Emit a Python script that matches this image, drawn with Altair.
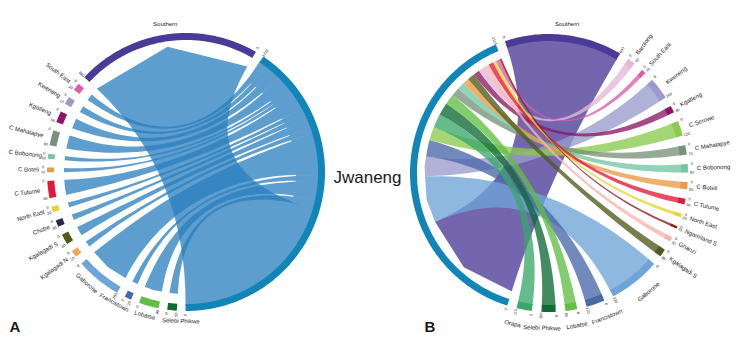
import math
import altair as alt
import pandas as pd

# ---- Panel A ----
a_names = ["Southern", "Jwaneng", "Selebi Phikwe", "Lobatse", "Francistown", "Gaborone", "Kgalagadi N",
           "Kgalagadi S", "Chobe", "North East", "C Tutume", "C Boteli", "C Bobonong", "C Mahalapye",
           "Kgatleng", "Kweneng", "South East"]
a_values = [970, 1840, 50, 105, 35, 240, 35, 55, 35, 30, 90, 25, 25, 80, 60, 40, 40]
a_ticks = ["980", "1710", "50", "90", "25", "280", "10", "50", "30", "20", "80", "10", "10", "90", "50", "10", "10"]
a_colors = ["#4B3A97", "#1285B8", "#0E6B35", "#62BF45", "#4A68A8", "#6FA4D8", "#F2A65A", "#4F5A1C", "#25294F",
            "#E4D62E", "#E31837", "#EA9A45", "#72C6A1", "#7A917A", "#8C1865", "#9A9BCC", "#D95FA8"]
# order of the links along the Jwaneng sector, clockwise
a_link_order = ["South East", "Kweneng", "Kgatleng", "C Mahalapye", "C Bobonong", "C Boteli", "C Tutume",
                "North East", "Chobe", "Kgalagadi S", "Kgalagadi N", "Gaborone", "Francistown", "Lobatse",
                "Selebi Phikwe", "Southern"]
a_tangent = ["Southern", "Gaborone", "Francistown", "Lobatse", "Selebi Phikwe"]
a_label_angle = {"Southern": 352, "Gaborone": 221.7, "Francistown": 208.8, "Lobatse": 196, "Selebi Phikwe": 182}

# ---- Panel B ----
b_names = ["Southern", "Barolong", "South East", "Kweneng", "Kgatleng", "C Serowe", "C Mahalapye", "C Bobonong",
           "C Boteli", "C Tutume", "North East", "Ngamiland S", "Ghanzi", "Kgalagadi S", "Gaborone",
           "Francistown", "Lobatse", "Selebi Phikwe", "Orapa", "Jwaneng"]
b_values = [750, 50, 28, 140, 45, 96, 60, 52, 45, 36, 22, 15, 30, 51, 330, 118, 75, 90, 97, 2130]
b_ticks = ["800", "40", "20", "160", "40", "120", "70", "60", "50", "30", "20", "15", "30", "65", "330", "120",
           "80", "100", "110", "2114"]
b_colors = ["#4B3A97", "#E4B7D5", "#D95FA8", "#9A9BCC", "#8C1865", "#8CCB4E", "#7A917A", "#72C6A1", "#EA9A45",
            "#E31837", "#E4D62E", "#8B1A1A", "#F4B6B0", "#4F5A1C", "#6FA4D8", "#4A68A8", "#62BF45", "#0E6B35",
            "#3BA76A", "#1285B8"]
b_link_order = ["Southern", "Gaborone", "Kweneng", "Francistown", "C Serowe", "Orapa", "Selebi Phikwe", "Lobatse",
                "C Mahalapye", "C Bobonong", "C Boteli", "Kgalagadi S", "Kgatleng", "Barolong", "Ghanzi", "C Tutume",
                "North East", "South East", "Ngamiland S"]
b_tangent = ["Southern", "Gaborone", "Francistown", "Lobatse", "Selebi Phikwe", "Orapa"]
b_label_angle = {"Southern": 7, "Gaborone": 140, "Francistown": 158, "Lobatse": 169.6, "Selebi Phikwe": 182.6,
                 "Orapa": 193.6}

A_CX, A_CY, B_CX, B_CY = 186.0, 172.0, 549.0, 173.0
R_OUT, R_IN = 139.0, 132.0
FONT_S = 6.0


def pt(cx, cy, r, deg):
    t = math.radians(deg)
    return [cx + r * math.sin(t), cy - r * math.cos(t)]


def arc(cx, cy, r, a0, a1, step=2.0):
    n = max(2, int(abs(a1 - a0) / step) + 1)
    return [pt(cx, cy, r, a0 + (a1 - a0) * i / (n - 1)) for i in range(n)]


def coarse(cx, cy, r, a0, a1):
    w = abs(a1 - a0)
    if w < 8:
        return arc(cx, cy, r, a0, a1)
    mid = (a0 + a1) / 2
    return [pt(cx, cy, r, a0), pt(cx, cy, r + w * 0.06, mid), pt(cx, cy, r, a1)]


def bez_t(p0, p1, c, t):
    return [(1 - t) ** 2 * p0[k] + 2 * t * (1 - t) * c[k] + t * t * p1[k] for k in (0, 1)]


def feature(ring, color, op):
    ring = ring + [ring[0]]
    return {"type": "Feature", "geometry": {"type": "Polygon", "coordinates": [ring]},
            "properties": {"c": color, "o": op}}


def layout(values, start, gap):
    k = (360 - gap * len(values)) / sum(values)
    pos, a = [], start
    for v in values:
        pos.append((a, a + v * k))
        a += v * k + gap
    return pos, k


def link(cx, cy, s0, s1, rs, j0, j1, rj, s_coarse, waist=0.0):
    c = [cx, cy]
    if s_coarse:
        send = coarse(cx, cy, rs, s0, s1)
        jend = arc(cx, cy, rj, j0, j1)
    else:
        send = arc(cx, cy, rs, s0, s1)
        jend = coarse(cx, cy, rj, j0, j1)
    e1, e2 = [], []
    for i in range(1, 40):
        t = i / 40
        a = bez_t(send[-1], jend[0], c, t)
        b = bez_t(send[0], jend[-1], c, t)
        m = [(a[0] + b[0]) / 2, (a[1] + b[1]) / 2]
        f = 1 - waist * 4 * t * (1 - t)
        e1.append([m[0] + (a[0] - m[0]) * f, m[1] + (a[1] - m[1]) * f])
        e2.append([m[0] + (b[0] - m[0]) * f, m[1] + (b[1] - m[1]) * f])
    return send + e1 + jend + e2[::-1]


shapes, texts = [], []


def add_text(t, x, y, rot, size, align, weight="normal"):
    texts.append({"t": t, "x": x, "y": y, "rot": rot % 360, "size": size, "align": align, "weight": weight})


# Panel A: clockwise layout of the sectors
a_pos, a_k = layout(a_values, 313.0, 3.6)
a_idx = {n: i for i, n in enumerate(a_names)}
j_start, j_end = a_pos[1]
j_scale = (j_end - j_start) / (sum(a_values) - a_values[1])
j0 = j_start
a_links = []
for n in a_link_order:
    i = a_idx[n]
    j1 = j0 + a_values[i] * j_scale
    w = a_pos[i][1] - a_pos[i][0]
    waist = 0.0 if n == "Southern" else (0.15 if w > 15 else 0.3)
    a_links.append(link(A_CX, A_CY, a_pos[i][0], a_pos[i][1], 122, j0, j1, R_IN + 1, True, waist))
    j0 = j1
for ring in a_links[::-1]:
    shapes.append(feature(ring, "#287DBE", 0.75))
# the ribbons merge into one even band close to the Jwaneng rim
others = sum(a_values[a_idx[n]] for n in a_link_order[:-1]) * j_scale
shapes.append(feature(arc(A_CX, A_CY, R_IN + 1, j_start, j_start + others, 1)
                      + arc(A_CX, A_CY, 110, j_start + others, j_start, 1), "#5E9ECE", 0.95))
for i, (a0, a1) in enumerate(a_pos):
    outer = arc(A_CX, A_CY, R_OUT, a0, a1, 1)
    inner = arc(A_CX, A_CY, R_IN, a1, a0, 1)
    shapes.append(feature(outer + inner, a_colors[i], 1))
    n = a_names[i]
    th = ((a0 + a1) / 2) % 360
    if n != "Jwaneng":
        if n in a_tangent:
            la = a_label_angle[n]
            p = pt(A_CX, A_CY, 149, la)
            add_text(n, p[0], p[1], 0 if n == "Southern" else la - 180, FONT_S, "center")
        else:
            p = pt(A_CX, A_CY, 145 if n == "C Bobonong" else 147, th)
            add_text(n, p[0], p[1], th - 270, FONT_S, "right")
    # 0 at the clockwise end, value at the other end
    for ang, lab in ((a1, "0"), (a0, a_ticks[i])):
        p = pt(A_CX, A_CY, 143, ang)
        g = ang % 360
        add_text(lab, p[0], p[1], g - 270 if g > 180 else g - 90, 3.8, "center")

# Panel B
b_pos, b_k = layout(b_values, 341.5, 4.0)
b_idx = {n: i for i, n in enumerate(b_names)}
j0 = b_pos[b_idx["Jwaneng"]][0]
for n in b_link_order:
    i = b_idx[n]
    j1 = j0 + b_values[i] * b_k
    shapes.append(feature(link(B_CX, B_CY, b_pos[i][0], b_pos[i][1], R_IN + 1, j0, j1, 124, False), b_colors[i], 0.78))
    j0 = j1
for i, (a0, a1) in enumerate(b_pos):
    outer = arc(B_CX, B_CY, R_OUT, a0, a1, 1)
    inner = arc(B_CX, B_CY, R_IN, a1, a0, 1)
    shapes.append(feature(outer + inner, b_colors[i], 1))
    n = b_names[i]
    th = ((a0 + a1) / 2) % 360
    if n != "Jwaneng":
        if n == "Southern":
            p = pt(B_CX, B_CY, 150, b_label_angle[n])
            add_text(n, p[0], p[1], 0, FONT_S, "center")
        elif n in b_tangent:
            la = b_label_angle[n]
            p = pt(B_CX, B_CY, 155, la)
            add_text(n, p[0], p[1], la - 180, FONT_S, "center")
        else:
            p = pt(B_CX, B_CY, 148, th)
            add_text(n, p[0], p[1], th - 90, FONT_S, "left")
    for ang, lab in ((a0, "0"), (a1, b_ticks[i])):
        p = pt(B_CX, B_CY, 143, ang)
        g = ang % 360
        add_text(lab, p[0], p[1], g - 270 if g > 180 else g - 90, 3.8, "center")

add_text("Jwaneng", 367.5, 177.5, 0, 17, "center")
add_text("A", 15, 327, 0, 15, "center", "bold")
add_text("B", 430, 327, 0, 15, "center", "bold")

W, H = 725, 329
geo = alt.Chart(alt.Data(values=shapes)).mark_geoshape(strokeWidth=0, stroke=None).encode(
    color=alt.Color("properties.c:N", scale=None),
    opacity=alt.Opacity("properties.o:Q", scale=None),
).project(type="identity", scale=1, translate=[-8, -8])

tdf = pd.DataFrame(texts)
xs = alt.X("x:Q", scale=alt.Scale(domain=[8, 8 + W]), axis=None)
ys = alt.Y("y:Q", scale=alt.Scale(domain=[8 + H, 8]), axis=None)
layers = [geo]
for al in ("left", "center", "right"):
    for w in ("normal", "bold"):
        d = tdf[(tdf["align"] == al) & (tdf["weight"] == w)]
        if len(d) == 0:
            continue
        layers.append(alt.Chart(d).mark_text(align=al, baseline="middle", font="Liberation Sans", fontWeight=w,
                                             color="#1a1a1a").encode(
            x=xs, y=ys, text="t:N", angle=alt.Angle("rot:Q", scale=None), size=alt.Size("size:Q", scale=None)))

chart = alt.layer(*layers).properties(width=W, height=H, padding=0, autosize=alt.AutoSizeParams(type="none")) \
    .configure_view(stroke=None)
chart.save("out.html", embed_options={"renderer": "svg", "actions": False})
